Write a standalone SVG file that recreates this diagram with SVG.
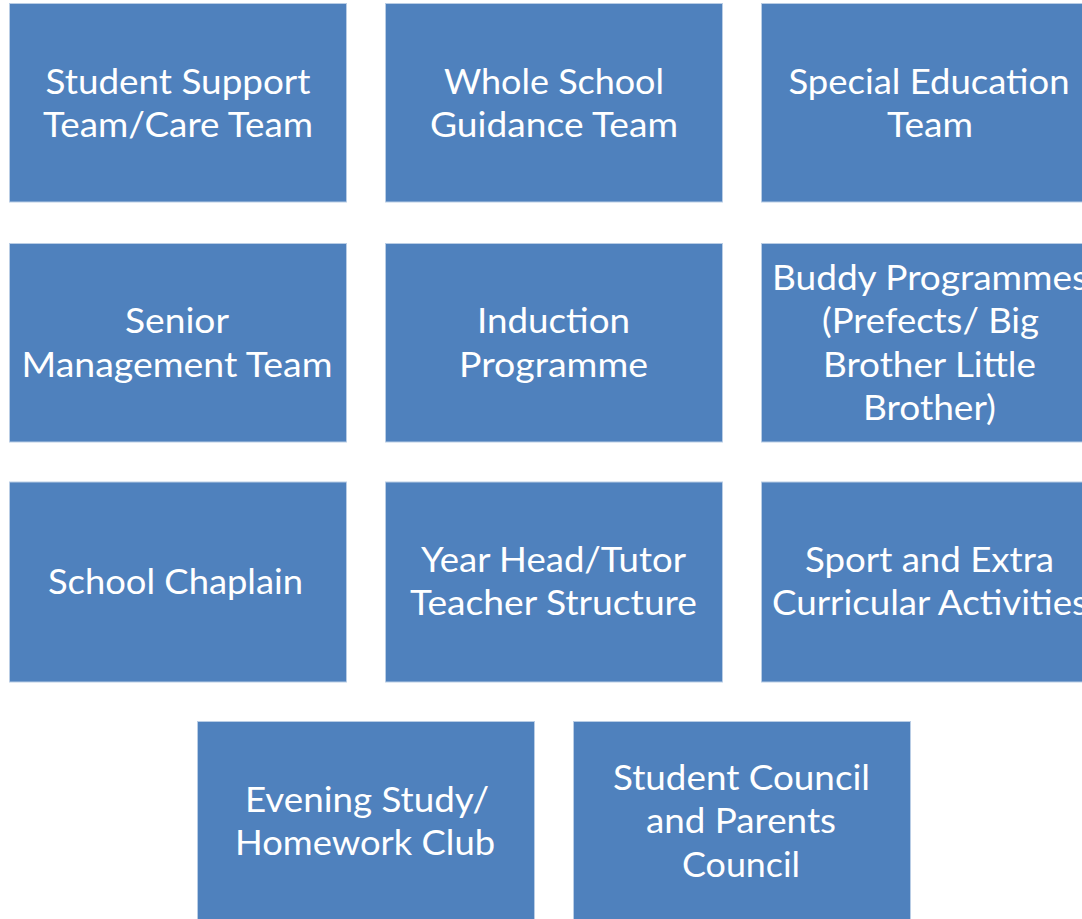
<svg xmlns="http://www.w3.org/2000/svg" width="1082" height="919" viewBox="0 0 1082 919">
<style>
.box{fill:#4F81BD;stroke:#B9CDE5;stroke-width:1}
.t{fill:#FFFFFF;font-family:Lato,"Open Sans","Liberation Sans",sans-serif;font-size:34px;text-anchor:middle}
</style>
<rect width="1082" height="919" fill="#FFFFFF"/>
<g id="n1"><rect class="box" x="9.5" y="3.5" width="337" height="198.5"/>
<text class="t"><tspan x="178" y="93.5" textLength="265" lengthAdjust="spacingAndGlyphs">Student Support</tspan><tspan x="178" y="137" textLength="270" lengthAdjust="spacingAndGlyphs">Team/Care Team</tspan></text></g>
<g id="n2"><rect class="box" x="385.5" y="3.5" width="337" height="198.5"/>
<text class="t"><tspan x="554" y="93.5" textLength="220" lengthAdjust="spacingAndGlyphs">Whole School</tspan><tspan x="554" y="137" textLength="248" lengthAdjust="spacingAndGlyphs">Guidance Team</tspan></text></g>
<g id="n3"><rect class="box" x="761.5" y="3.5" width="337" height="198.5"/>
<text class="t"><tspan x="929" y="93.5" textLength="281" lengthAdjust="spacingAndGlyphs">Special Education</tspan><tspan x="930" y="137" textLength="86" lengthAdjust="spacingAndGlyphs">Team</tspan></text></g>
<g id="n4"><rect class="box" x="9.5" y="243.5" width="337" height="198.5"/>
<text class="t"><tspan x="177" y="333" textLength="104" lengthAdjust="spacingAndGlyphs">Senior</tspan><tspan x="177" y="376.5" textLength="311" lengthAdjust="spacingAndGlyphs">Management Team</tspan></text></g>
<g id="n5"><rect class="box" x="385.5" y="243.5" width="337" height="198.5"/>
<text class="t"><tspan x="553.5" y="333" textLength="153" lengthAdjust="spacingAndGlyphs">Induction</tspan><tspan x="553.5" y="376.5" textLength="189" lengthAdjust="spacingAndGlyphs">Programme</tspan></text></g>
<g id="n6"><rect class="box" x="761.5" y="243.5" width="337" height="198.5"/>
<text class="t"><tspan x="930" y="289.5" textLength="316" lengthAdjust="spacingAndGlyphs">Buddy Programmes</tspan><tspan x="930.5" y="333" textLength="217" lengthAdjust="spacingAndGlyphs">(Prefects/ Big</tspan><tspan x="929.5" y="376.5" textLength="213" lengthAdjust="spacingAndGlyphs">Brother Little</tspan><tspan x="929.5" y="420" textLength="133" lengthAdjust="spacingAndGlyphs">Brother)</tspan></text></g>
<g id="n7"><rect class="box" x="9.5" y="482" width="337" height="200"/>
<text class="t"><tspan x="175.5" y="593.5" textLength="255" lengthAdjust="spacingAndGlyphs">School Chaplain</tspan></text></g>
<g id="n8"><rect class="box" x="385.5" y="482" width="337" height="200"/>
<text class="t"><tspan x="553.5" y="571.5" textLength="265" lengthAdjust="spacingAndGlyphs">Year Head/Tutor</tspan><tspan x="553.5" y="615" textLength="287" lengthAdjust="spacingAndGlyphs">Teacher Structure</tspan></text></g>
<g id="n9"><rect class="box" x="761.5" y="482" width="337" height="200"/>
<text class="t"><tspan x="929.5" y="571.5" textLength="249" lengthAdjust="spacingAndGlyphs">Sport and Extra</tspan><tspan x="930" y="615" textLength="316" lengthAdjust="spacingAndGlyphs">Curricular Activities</tspan></text></g>
<g id="n10"><rect class="box" x="197.5" y="721.5" width="337" height="200"/>
<text class="t"><tspan x="367" y="811.5" textLength="244" lengthAdjust="spacingAndGlyphs">Evening Study/</tspan><tspan x="365" y="855" textLength="260" lengthAdjust="spacingAndGlyphs">Homework Club</tspan></text></g>
<g id="n11"><rect class="box" x="573.5" y="721.5" width="337" height="200"/>
<text class="t"><tspan x="741.5" y="789.5" textLength="257" lengthAdjust="spacingAndGlyphs">Student Council</tspan><tspan x="741" y="833" textLength="190" lengthAdjust="spacingAndGlyphs">and Parents</tspan><tspan x="741" y="876.5" textLength="118" lengthAdjust="spacingAndGlyphs">Council</tspan></text></g>
<g id="connectors"></g>
</svg>
